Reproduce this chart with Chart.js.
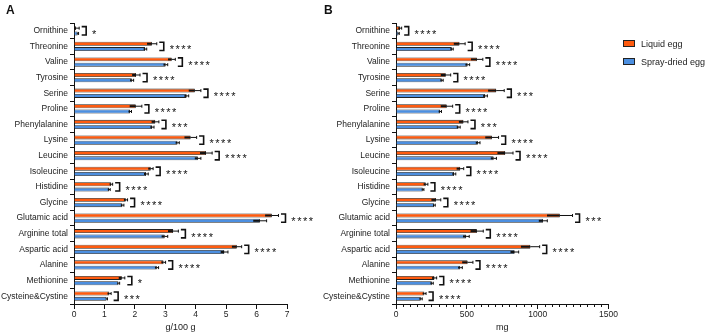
<!DOCTYPE html>
<html>
<head>
<meta charset="utf-8">
<script src="https://cdn.jsdelivr.net/npm/chart.js@4.4.1/dist/chart.umd.min.js"></script>
<style>
  body { margin: 0; background: #fff; font-family: 'Liberation Sans', Arial, sans-serif; }
  #wrap { position: relative; width: 708px; height: 336px; overflow: hidden; }
  canvas { position: absolute; top: 0; }
  .panel { position: absolute; font-weight: bold; font-size: 12px; color: #111; }
  .leg { position: absolute; left: 623px; font-size: 9px; color: #222; }
  .leg span { display: inline-block; width: 10px; height: 5px; border: 1px solid #222; vertical-align: middle; margin-right: 6px; position: relative; top: -1px; }
</style>
</head>
<body>
<div id="wrap">
  <canvas id="graphA" width="330" height="336" style="left:0px"></canvas>
  <canvas id="graphB" width="388" height="336" style="left:320px"></canvas>
  <div class="panel" style="left:6px;top:3px">A</div>
  <div class="panel" style="left:324px;top:3px">B</div>
  <div class="leg" style="top:39px"><span style="background:#FF5B0F"></span>Liquid egg</div>
  <div class="leg" style="top:57px"><span style="background:#4C8FE0"></span>Spray-dried egg</div>
</div>
<script>
var categories = ['Ornithine', 'Threonine', 'Valine', 'Tyrosine', 'Serine', 'Proline', 'Phenylalanine',
    'Lysine', 'Leucine', 'Isoleucine', 'Histidine', 'Glycine', 'Glutamic acid', 'Arginine total',
    'Aspartic acid', 'Alanine', 'Methionine', 'Cysteine&Cystine'];

// panel A, g/100 g
var liquidA = [0.07, 2.56, 3.21, 2.04, 3.97, 2.03, 2.67, 3.83, 4.34, 2.52, 1.22, 1.70, 6.50, 3.26, 5.35, 2.94, 1.57, 1.16];
var sprayA = [0.12, 2.34, 3.01, 1.90, 3.70, 1.84, 2.57, 3.40, 4.07, 2.37, 1.15, 1.59, 6.11, 2.98, 4.94, 2.72, 1.46, 1.07];
var sdLiquidA = [0.10, 0.16, 0.12, 0.13, 0.20, 0.20, 0.12, 0.20, 0.20, 0.08, 0.05, 0.06, 0.22, 0.17, 0.16, 0.07, 0.10, 0.06];
var sdSprayA = [0.03, 0.05, 0.07, 0.06, 0.07, 0.05, 0.06, 0.06, 0.10, 0.07, 0.04, 0.05, 0.22, 0.10, 0.12, 0.06, 0.04, 0.03];
var starsA = ['*', '****', '****', '****', '****', '****', '***', '****', '****', '****', '****', '****',
    '****', '****', '****', '****', '*', '***'];
var ticksA = [0, 1, 2, 3, 4, 5, 6, 7];

// panel B, mg
var liquidB = [28, 448, 571, 351, 707, 358, 476, 677, 771, 453, 210, 283, 1156, 571, 948, 505, 271, 200];
var sprayB = [17, 394, 505, 323, 630, 311, 441, 578, 689, 410, 189, 269, 1038, 495, 837, 453, 253, 175];
var sdLiquidB = [12, 40, 42, 35, 57, 42, 32, 47, 55, 25, 15, 33, 90, 45, 66, 38, 16, 12];
var sdSprayB = [6, 10, 15, 10, 15, 10, 12, 15, 20, 12, 8, 8, 30, 22, 29, 15, 10, 10];
var starsB = ['****', '****', '****', '****', '***', '****', '***', '****', '****', '****', '****', '****',
    '***', '****', '****', '****', '****', '****'];
var ticksB = [0, 500, 1000, 1500];

var orange = '#FF5B0F';
var blue = '#4C8FE0';
var ink = '#111';

Chart.defaults.font.family = "'Liberation Sans', Arial, sans-serif";
Chart.defaults.color = ink;

// error bars, significance brackets and stars
var errorBars = {
    id: 'errorBars',
    afterDatasetsDraw: function (chart, args, opts) {
        var ctx = chart.ctx;
        var xs = chart.scales.x;
        var ds = chart.data.datasets;
        ctx.save();
        ctx.strokeStyle = ink;
        ctx.fillStyle = ink;
        for (var d = 0; d < ds.length; d++) {
            var meta = chart.getDatasetMeta(d);
            for (var i = 0; i < meta.data.length; i++) {
                var bar = meta.data[i];
                var v = ds[d].data[i], s = opts.sd[d][i];
                var x0 = xs.getPixelForValue(Math.max(0, v - s));
                var xm = xs.getPixelForValue(v);
                var x1 = xs.getPixelForValue(v + s);
                ctx.lineWidth = 2;
                ctx.beginPath();
                ctx.moveTo(x0, bar.y); ctx.lineTo(xm, bar.y);
                ctx.stroke();
                ctx.lineWidth = 1;
                ctx.beginPath();
                ctx.moveTo(xm, bar.y); ctx.lineTo(x1, bar.y);
                ctx.moveTo(x1, bar.y - 1.5); ctx.lineTo(x1, bar.y + 1.5);
                ctx.stroke();
            }
        }
        var m0 = chart.getDatasetMeta(0), m1 = chart.getDatasetMeta(1);
        for (var j = 0; j < m0.data.length; j++) {
            var right = Math.max(xs.getPixelForValue(ds[0].data[j] + opts.sd[0][j]),
                xs.getPixelForValue(ds[1].data[j] + opts.sd[1][j]));
            var bx = right + 7;
            var yt = m0.data[j].y - 1.5, yb = m1.data[j].y + 1.5;
            ctx.lineWidth = 1.6;
            ctx.beginPath();
            ctx.moveTo(bx - 4.5, yt); ctx.lineTo(bx, yt); ctx.lineTo(bx, yb); ctx.lineTo(bx - 4.5, yb);
            ctx.stroke();
            ctx.font = "11px 'Liberation Sans', Arial, sans-serif";
            ctx.textAlign = 'center';
            ctx.textBaseline = 'alphabetic';
            var mid = (yt + yb) / 2;
            for (var k = 0; k < opts.stars[j].length; k++) {
                ctx.fillText('*', bx + 8 + k * 5.8, mid + 6.8);
            }
        }
        ctx.restore();
    }
};

// short minor ticks on the mg axis
var minorTicks = {
    id: 'minorTicks',
    afterDraw: function (chart, args, opts) {
        if (!opts.step) return;
        var xs = chart.scales.x;
        var ctx = chart.ctx;
        var y = chart.chartArea.bottom;
        ctx.save();
        ctx.strokeStyle = ink;
        ctx.lineWidth = 1;
        ctx.beginPath();
        for (var v = opts.step; v < xs.max; v += opts.step) {
            if (v % 500 === 0) continue;
            var x = Math.round(xs.getPixelForValue(v)) + 0.5;
            ctx.moveTo(x, y); ctx.lineTo(x, y + 3);
        }
        ctx.stroke();
        ctx.restore();
    }
};

function makeChart(id, liquid, spray, sdL, sdS, stars, tickVals, xMax, xTitle, yWidth, padRight, minor) {
    var chartdata = {
        labels: categories,
        datasets: [{
            label: 'Liquid egg',
            backgroundColor: orange,
            borderColor: '#222',
            borderWidth: 0.8,
            data: liquid
        }, {
            label: 'Spray-dried egg',
            backgroundColor: blue,
            borderColor: '#222',
            borderWidth: 0.8,
            data: spray
        }]
    };

    return new Chart(document.getElementById(id), {
        type: 'bar',
        data: chartdata,
        plugins: [errorBars, minorTicks],
        options: {
            indexAxis: 'y',
            responsive: false,
            animation: false,
            categoryPercentage: 0.68,
            barPercentage: 0.75,
            layout: { padding: { top: 23, right: padRight, left: 0, bottom: 0 } },
            plugins: {
                legend: { display: false },
                tooltip: { enabled: false },
                errorBars: { sd: [sdL, sdS], stars: stars },
                minorTicks: { step: minor }
            },
            scales: {
                x: {
                    type: 'linear',
                    min: 0,
                    max: xMax,
                    afterBuildTicks: function (scale) {
                        scale.ticks = tickVals.map(function (v) { return { value: v }; });
                    },
                    afterFit: function (scale) { scale.height = 32; },
                    grid: { drawOnChartArea: false, drawTicks: true, tickLength: 5, color: ink, tickWidth: 1 },
                    border: { display: true, color: ink, width: 1 },
                    ticks: {
                        font: { size: 8.5 }, color: '#222', padding: 1, maxRotation: 0,
                        callback: function (value) { return String(value); }
                    },
                    title: { display: true, text: xTitle, font: { size: 9 }, color: '#222', padding: { top: 2, bottom: 3 } }
                },
                y: {
                    afterFit: function (scale) { scale.width = yWidth; },
                    grid: { drawOnChartArea: false, drawTicks: true, tickLength: 4, color: ink, tickWidth: 1 },
                    border: { display: true, color: ink, width: 1 },
                    ticks: { font: { size: 8.5 }, color: '#222', padding: 2, autoSkip: false }
                }
            }
        }
    });
}

makeChart('graphA', liquidA, sprayA, sdLiquidA, sdSprayA, starsA, ticksA, 7, 'g/100 g', 74, 43, 0);
makeChart('graphB', liquidB, sprayB, sdLiquidB, sdSprayB, starsB, ticksB, 1500, 'mg', 76, 99.5, 50);
</script>
</body>
</html>
